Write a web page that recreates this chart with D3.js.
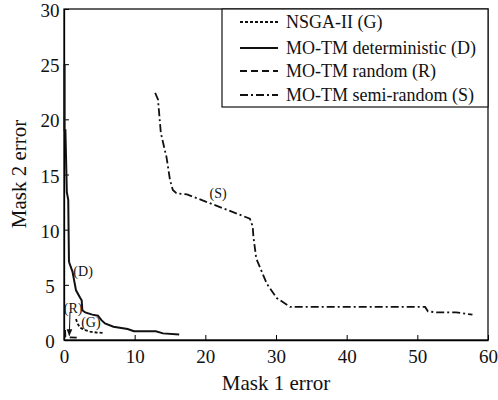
<!DOCTYPE html>
<html>
<head>
<meta charset="utf-8">
<script src="https://cdn.jsdelivr.net/npm/d3@7"></script>
<style>
  body { margin: 0; background: #fff; }
  svg text { font-family: "Liberation Serif", "Times New Roman", Times, serif !important; fill: #111; }
</style>
</head>
<body>
<div id="chart"></div>
<script>
// data (Mask 1 error, Mask 2 error)
var nsga = [[1.7, 1.9], [1.9, 1.5], [2.3, 1.1], [3.0, 0.9], [3.7, 0.75], [4.6, 0.68], [5.6, 0.65]];
var deterministic = [[0.08, 25], [0.08, 19], [0.2, 19], [0.4, 13.4], [0.6, 12.7], [0.7, 7.2], [0.75, 7.0],
  [1.2, 6.2], [1.7, 4.5], [2.3, 3.8], [2.5, 3.6], [2.6, 2.7], [3.0, 2.5], [4.0, 2.3], [4.8, 2.2],
  [5.3, 1.8], [5.8, 1.5], [7.0, 1.2], [9.0, 1.0], [9.9, 0.8], [13.0, 0.8], [14.0, 0.6], [16.3, 0.5]];
var random = [[0.15, 0.9], [0.2, 0.3], [0.6, 0.25], [2.1, 0.2]];
var semiRandom = [[12.9, 22.4], [13.3, 21.8], [13.7, 18.8], [14.3, 17.1], [14.5, 16.6], [15.0, 14.5],
  [15.4, 13.6], [15.9, 13.3], [17.4, 13.2], [26.3, 11.0], [26.7, 10.3], [26.8, 9.4], [27.2, 7.4],
  [28.7, 5.1], [30.1, 3.8], [32.0, 3.0], [51.1, 3.0], [51.5, 2.6], [52.7, 2.5], [55.5, 2.5], [57.8, 2.3]];

var xTicks = [0, 10, 20, 30, 40, 50, 60];
var yTicks = [0, 5, 10, 15, 20, 25, 30];
var legendNames = ["NSGA-II (G)", "MO-TM deterministic (D)", "MO-TM random (R)", "MO-TM semi-random (S)"];

var W = 498, H = 400;
var margin = {top: 9, right: 10, bottom: 60, left: 64};
var width = W - margin.left - margin.right,
    height = H - margin.top - margin.bottom;

var svg = d3.select("#chart").append("svg")
    .attr("width", W).attr("height", H);

var defs = svg.append("defs");
defs.append("marker")
    .attr("id", "arrow")
    .attr("viewBox", "0 0 10 10")
    .attr("refX", 9).attr("refY", 5)
    .attr("markerWidth", 7).attr("markerHeight", 7)
    .attr("orient", "auto")
  .append("path")
    .attr("d", "M0,1 L10,5 L0,9 Z")
    .attr("fill", "#111");

var g = svg.append("g")
    .attr("transform", "translate(" + margin.left + "," + margin.top + ")");

var x = d3.scaleLinear().domain([0, 60]).range([0, width]);
var y = d3.scaleLinear().domain([0, 30]).range([height, 0]);

// frame
g.append("rect")
    .attr("width", width).attr("height", height)
    .attr("fill", "none").attr("stroke", "#111").attr("stroke-width", 1.3);

// x axis, ticks inward
var xAxis = g.append("g")
    .attr("transform", "translate(0," + height + ")")
    .call(d3.axisBottom(x).tickValues(xTicks).tickSizeInner(-5).tickSizeOuter(0).tickPadding(10));
xAxis.select(".domain").attr("stroke-width", 1.3);
xAxis.selectAll("text").attr("font-size", 19);

var yAxis = g.append("g")
    .call(d3.axisLeft(y).tickValues(yTicks).tickSizeInner(-5).tickSizeOuter(0).tickPadding(10));
yAxis.select(".domain").attr("stroke-width", 1.3);
yAxis.selectAll("text")
    .attr("font-size", 19)
    .attr("text-anchor", "middle").attr("x", -14).attr("dy", "0.4em");

// axis titles
svg.append("text")
    .attr("x", 276).attr("y", 390)
    .attr("text-anchor", "middle").attr("font-size", 21)
    .text("Mask 1 error");
svg.append("text")
    .attr("transform", "translate(26,174) rotate(-90)")
    .attr("text-anchor", "middle").attr("font-size", 21)
    .text("Mask 2 error");

var line = d3.line().x(function(d) { return x(d[0]); }).y(function(d) { return y(d[1]); });

var series = [
  {data: nsga, dash: "3,2", w: 1.8},
  {data: deterministic, dash: null, w: 2},
  {data: random, dash: "7,4", w: 1.8},
  {data: semiRandom, dash: "8,3,2,3", w: 1.8}
];

g.selectAll("path.series")
    .data(series)
    .enter().append("path")
    .attr("class", "series")
    .attr("d", function(d) { return line(d.data); })
    .attr("fill", "none")
    .attr("stroke", "#111")
    .attr("stroke-width", function(d) { return d.w; })
    .attr("stroke-dasharray", function(d) { return d.dash; });

// in-plot labels
var labels = [["(D)", 2.7, 6.2], ["(R)", 1.3, 2.9], ["(G)", 3.8, 1.6], ["(S)", 21.8, 13.3]];
g.selectAll("text.lab")
    .data(labels)
    .enter().append("text")
    .attr("class", "lab")
    .attr("x", function(d) { return x(d[1]); })
    .attr("y", function(d) { return y(d[2]); })
    .attr("text-anchor", "middle")
    .attr("dy", "0.35em")
    .attr("font-size", 14)
    .text(function(d) { return d[0]; });

// arrow from (R) down to the curve
g.append("line")
    .attr("x1", x(0.85)).attr("y1", y(2.5))
    .attr("x2", x(0.75)).attr("y2", y(0.4))
    .attr("stroke", "#111").attr("stroke-width", 1)
    .attr("marker-end", "url(#arrow)");

// legend
var lg = svg.append("g").attr("transform", "translate(222," + margin.top + ")");
lg.append("rect")
    .attr("width", 488 - 222).attr("height", 107 - margin.top)
    .attr("fill", "#fff").attr("stroke", "#111").attr("stroke-width", 1.2);

var rowY = [13, 39, 62, 86];
var item = lg.selectAll("g.item")
    .data(legendNames)
    .enter().append("g")
    .attr("class", "item")
    .attr("transform", function(d, i) { return "translate(0," + rowY[i] + ")"; });

item.append("line")
    .attr("x1", 18).attr("x2", 56)
    .attr("stroke", "#111")
    .attr("stroke-width", function(d, i) { return series[i].w; })
    .attr("stroke-dasharray", function(d, i) { return series[i].dash; });

item.append("text")
    .attr("x", 64).attr("dy", "0.35em")
    .attr("font-size", 18)
    .text(function(d) { return d; });
</script>
</body>
</html>
